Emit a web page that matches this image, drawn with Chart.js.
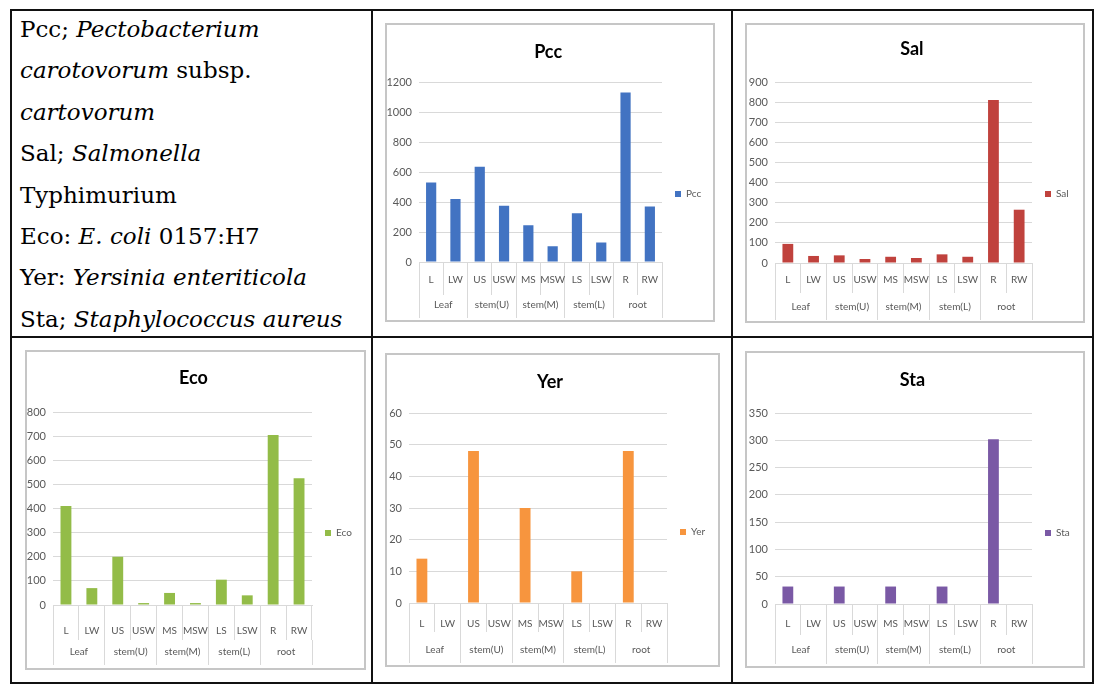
<!DOCTYPE html>
<html><head><meta charset="utf-8">
<script src="https://cdn.jsdelivr.net/npm/chart.js@4.4.0/dist/chart.umd.min.js"></script>
<style>
html,body{margin:0;padding:0;background:#fff;}
body{width:1104px;height:689px;position:relative;overflow:hidden;}
.ln{position:absolute;background:#111;}
.wrap{position:absolute;}
.frame{position:absolute;border:2px solid #c6c6c6;box-sizing:border-box;pointer-events:none;}
.note{position:absolute;left:20px;top:9px;font-family:'DejaVu Serif',serif;font-size:23px;line-height:41.4px;color:#000;white-space:nowrap;}
.note i{font-style:italic;}
</style></head><body>
<div class="note">Pcc; <i>Pectobacterium</i><br><i>carotovorum</i> subsp.<br><i>cartovorum</i><br>Sal; <i>Salmonella</i><br>Typhimurium<br>Eco: <i>E. coli</i> 0157:H7<br>Yer: <i>Yersinia enteriticola</i><br>Sta; <i>Staphylococcus aureus</i></div>
<div class="ln" style="left:10px;top:9px;width:1084px;height:2px"></div>
<div class="ln" style="left:10px;top:336px;width:1084px;height:2px"></div>
<div class="ln" style="left:10px;top:682px;width:1084px;height:2px"></div>
<div class="ln" style="left:10px;top:9px;width:2px;height:675px"></div>
<div class="ln" style="left:371px;top:9px;width:2px;height:675px"></div>
<div class="ln" style="left:731px;top:9px;width:2px;height:675px"></div>
<div class="ln" style="left:1092px;top:9px;width:2px;height:675px"></div>
<script>
// ---- data ----
const categories = ['L','LW','US','USW','MS','MSW','LS','LSW','R','RW'];
const groups = ['Leaf','stem(U)','stem(M)','stem(L)','root'];
const pccValues = [530,420,635,375,245,105,325,130,1130,370];
const salValues = [95,35,38,20,31,25,43,31,810,265];
const ecoValues = [410,70,200,8,50,8,105,40,705,525];
const yerValues = [14,0,48,0,30,0,10,0,48,0];
const staValues = [32,0,32,0,32,0,32,0,302,0];
const seriesNames = ['Pcc','Sal','Eco','Yer','Sta'];
const yMaxes = [1200,900,800,60,350];
const yStepSizes = [200,100,100,10,50];

// ---- layout / style ----
const colors = ['#4273c2','#c0423d','#93bc48','#f7953e','#7a59a5'];
const seriesValues = [pccValues,salValues,ecoValues,yerValues,staValues];
const layouts = [
  {box:[385,23,715,322], area:[419,82,672,262], titleY:52, lab1:280, split:295, lab2:305, bottom:318, legY:194},
  {box:[745,23,1085,323], area:[775,82,1042,263], titleY:49, lab1:280, split:293, lab2:307, bottom:320, legY:194},
  {box:[25,350,366,670], area:[53,412,322,605], titleY:378, lab1:631, split:640, lab2:652, bottom:665, legY:533},
  {box:[385,353,720,667], area:[409,413,677,603], titleY:382, lab1:624, split:632, lab2:650, bottom:663, legY:532},
  {box:[745,351,1085,668], area:[775,413,1042,604], titleY:380, lab1:624, split:635, lab2:650, bottom:664, legY:533}
];
const FONT = "Lato, 'Open Sans', sans-serif";
const tickColor = '#595959';
const gridColor = '#d9d9d9';
const legendFontSize = 10, legendBox = 6, legendPad = 13;
const tickFontSize = 11, catFontSize = 10;

const mctx = document.createElement('canvas').getContext('2d');

const legendShift = {
  id: 'legendShift',
  afterLayout(chart, args, opts) {
    const lg = chart.legend;
    if (!lg) return;
    const dy = opts.targetY - (lg.top + lg.bottom) / 2;
    lg.top += dy; lg.bottom += dy;
  }
};

seriesNames.forEach((name, i) => {
  const L = layouts[i];
  const [bx0,by0,bx1,by1] = L.box;
  const W = bx1-bx0, H = by1-by0;
  const [ax0,ay0,ax1,ay1] = L.area;
  const wrap = document.createElement('div');
  wrap.className = 'wrap';
  wrap.style.cssText = `left:${bx0}px;top:${by0}px;width:${W}px;height:${H}px`;
  const cv = document.createElement('canvas');
  cv.width = W; cv.height = H;
  cv.style.width = W+'px'; cv.style.height = H+'px';
  wrap.appendChild(cv);
  document.body.appendChild(wrap);
  const fr = document.createElement('div');
  fr.className = 'frame';
  fr.style.cssText = `left:${bx0}px;top:${by0}px;width:${W}px;height:${H}px`;
  document.body.appendChild(fr);

  const titleSize = 18, titleLH = titleSize*1.2;
  const tTop = L.titleY - by0 - titleLH/2;
  const tBottom = (ay0 - by0) - tTop - titleLH;
  mctx.font = `${legendFontSize}px ${FONT}`;
  const legW = legendPad + legendBox + legendFontSize/2 + mctx.measureText(name).width;
  const padRight = Math.max(0, (bx1 - ax1) - legW);
  const catLH = catFontSize*1.2;
  const h1 = L.split - ay1, h2 = L.bottom - L.split;

  new Chart(cv, {
    type: 'bar',
    plugins: [legendShift],
    data: {
      labels: categories,
      datasets: [{label: name, data: seriesValues[i], backgroundColor: colors[i], borderWidth: 0,
        categoryPercentage: 1, barPercentage: 0.42, xAxisID: 'x', yAxisID: 'y'}]
    },
    options: {
      responsive: false, animation: false, devicePixelRatio: 1,
      layout: {padding: {left: 0, top: 0, right: padRight, bottom: by1 - L.bottom}},
      plugins: {
        title: {display: true, text: name, color: '#000',
          font: {family: FONT, size: titleSize, weight: 'bold'}, padding: {top: tTop, bottom: tBottom}},
        legend: {display: true, position: 'right',
          labels: {boxWidth: legendBox, boxHeight: legendBox, padding: legendPad, color: tickColor,
            font: {family: FONT, size: legendFontSize}}},
        legendShift: {targetY: L.legY - by0},
        tooltip: {enabled: false}
      },
      scales: {
        y: {min: 0, max: yMaxes[i], weight: 0,
          ticks: {stepSize: yStepSizes[i], color: tickColor, padding: 7,
            font: {family: FONT, size: tickFontSize}, callback: v => String(v)},
          grid: {color: gridColor, drawTicks: false},
          border: {display: false},
          afterFit: s => { s.width = ax0 - bx0; }
        },
        x: {type: 'category', position: 'bottom', offset: true, weight: 1,
          ticks: {autoSkip: false, maxRotation: 0, color: tickColor, font: {family: FONT, size: catFontSize},
            padding: (L.lab1 - ay1) - h1 - catLH/2},
          grid: {offset: true, drawOnChartArea: false, tickLength: h1, color: gridColor},
          border: {display: true, color: gridColor},
          afterFit: s => { s.height = h1; }
        },
        x2: {type: 'category', labels: groups, position: 'bottom', offset: true, weight: 2,
          ticks: {autoSkip: false, maxRotation: 0, color: tickColor, font: {family: FONT, size: catFontSize},
            padding: (L.lab2 - L.split) - h2 - catLH/2},
          grid: {offset: true, drawOnChartArea: false, tickLength: h2, color: gridColor},
          border: {display: false},
          afterFit: s => { s.height = h2; }
        }
      }
    }
  });
});
</script>
</body></html>
